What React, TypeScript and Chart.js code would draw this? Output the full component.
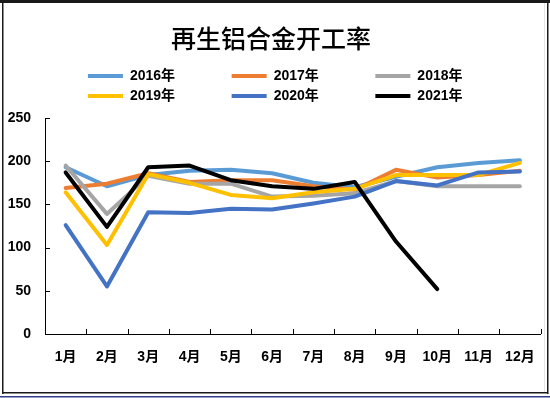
import React, { useEffect, useRef } from "react";
import { Chart, registerables } from "chart.js";

Chart.register(...registerables);

const months = ["1月", "2月", "3月", "4月", "5月", "6月", "7月", "8月", "9月", "10月", "11月", "12月"];
const seriesNames = ["2016年", "2017年", "2018年", "2019年", "2020年", "2021年"];
const y2016 = [193, 171, 184, 189, 190, 186, 175, 170, 182, 193, 198, 201];
const y2017 = [169, 174, 186, 176, 178, 178, 171, 167, 190, 181, 184, 189];
const y2018 = [195, 139, 183, 174, 174, 159, 160, 163, 177, 171, 171, 171];
const y2019 = [164, 103, 185, 175, 161, 157, 164, 168, 184, 184, 184, 198];
const y2020 = [126, 55, 141, 140, 145, 144, 151, 159, 177, 172, 187, 188];
const y2021 = [187, 124, 193, 195, 178, 171, 168, 176, 107, 52];
const colors = ["#5B9BD5", "#ED7D31", "#A5A5A5", "#FFC000", "#4472C4", "#000000"];
const yTicksMax = 250;
const yStep = 50;

const FONT = "'Liberation Sans', 'Noto Sans CJK SC', sans-serif";
const TITLE_FONT = "'Noto Sans CJK SC', sans-serif";
const LEGEND_PAD = "             ";

const framePlugin = {
  id: "frame",
  beforeDraw(chart: any) {
    const ctx = chart.ctx;
    ctx.save();
    ctx.fillStyle = "#ffffff";
    ctx.fillRect(0, 0, chart.width, chart.height);
    ctx.restore();
  },
  afterDraw(chart: any) {
    const ctx = chart.ctx;
    ctx.save();
    ctx.fillStyle = "#1a1a1a";
    ctx.fillRect(0, 0, 550, 3);
    ctx.fillRect(2, 0, 1.5, 394);
    ctx.fillRect(547, 0, 1.5, 394);
    ctx.fillRect(2, 392, 546, 1.5);
    ctx.fillStyle = "#e4e4e4";
    ctx.fillRect(544, 3, 1, 389);
    ctx.fillStyle = "#2f3f86";
    ctx.fillRect(0, 396, 550, 1.5);
    ctx.restore();
  },
};

const innerTicksPlugin = {
  id: "innerTicks",
  afterDatasetsDraw(chart: any) {
    const ctx = chart.ctx;
    const xs = chart.scales.x;
    const ys = chart.scales.y;
    ctx.save();
    ctx.strokeStyle = "#000";
    ctx.lineWidth = 1;
    ctx.beginPath();
    for (let i = 0; i <= months.length; i++) {
      const px = Math.round(xs.getPixelForValue(i - 0.5)) + 0.5;
      ctx.moveTo(px, ys.bottom);
      ctx.lineTo(px, ys.bottom - 5);
    }
    ys.ticks.forEach((t: any) => {
      const py = Math.round(ys.getPixelForValue(t.value)) + 0.5;
      ctx.moveTo(xs.left, py);
      ctx.lineTo(xs.left + 5, py);
    });
    ctx.stroke();
    ctx.restore();
  },
};

const legendPosPlugin = {
  id: "legendPos",
  afterLayout(chart: any) {
    const lg = chart.legend;
    if (!lg) return;
    const h = lg.bottom - lg.top;
    lg.top = 63;
    lg.bottom = lg.top + h;
    lg.left = 59;
  },
};

export default function App() {
  const ref = useRef<HTMLCanvasElement | null>(null);
  useEffect(() => {
    if (!ref.current) return;
    const all = [y2016, y2017, y2018, y2019, y2020, y2021];
    const chart = new Chart(ref.current, {
      type: "line",
      data: {
        labels: months,
        datasets: all.map((d, i) => ({
          label: seriesNames[i],
          data: d,
          borderColor: colors[i],
          backgroundColor: colors[i],
          borderWidth: 4,
          pointRadius: 0,
          tension: 0,
          fill: false,
          borderJoinStyle: "round" as const,
          borderCapStyle: "round" as const,
          order: all.length - i,
        })),
      },
      options: {
        responsive: false,
        animation: false,
        layout: { padding: { left: 0, right: 8, top: 0, bottom: 0 } },
        plugins: {
          tooltip: { enabled: false },
          title: {
            display: true,
            text: "再生铝合金开工率",
            color: "#000",
            font: { family: TITLE_FONT, size: 25, weight: "500" },
            padding: { top: 23, bottom: 15 },
          },
          legend: {
            display: true,
            position: "top",
            labels: {
              usePointStyle: true,
              pointStyle: "line",
              pointStyleWidth: 35,
              color: "#000",
              padding: 6,
              font: { family: FONT, size: 14, weight: "bold" },
              sort: (a: any, b: any) => a.datasetIndex - b.datasetIndex,
              generateLabels: (ch: any) => {
                const items = Chart.defaults.plugins.legend.labels.generateLabels(ch);
                return items.map((it: any) => ({ ...it, text: it.text + LEGEND_PAD }));
              },
            },
          },
        },
        scales: {
          x: {
            type: "category",
            offset: true,
            grid: { display: false, drawTicks: false, offset: true },
            border: { display: true, color: "#000", width: 1 },
            ticks: { color: "#000", font: { family: FONT, size: 14, weight: "bold" }, padding: 15, maxRotation: 0, autoSkip: false },
            afterFit: (s: any) => {
              s.height = 64;
            },
          },
          y: {
            min: 0,
            max: yTicksMax,
            grid: { display: false, drawTicks: false },
            border: { display: true, color: "#000", width: 1 },
            ticks: { stepSize: yStep, color: "#000", font: { family: FONT, size: 14, weight: "bold" }, padding: 14 },
            afterFit: (s: any) => {
              s.width = 45;
            },
          },
        },
      },
      plugins: [framePlugin, innerTicksPlugin, legendPosPlugin],
    });
    return () => chart.destroy();
  }, []);
  return (
    <div style={{ position: "absolute", left: 0, top: 0, width: 550, height: 398 }}>
      <canvas ref={ref} width={550} height={398} style={{ display: "block" }} />
    </div>
  );
}
